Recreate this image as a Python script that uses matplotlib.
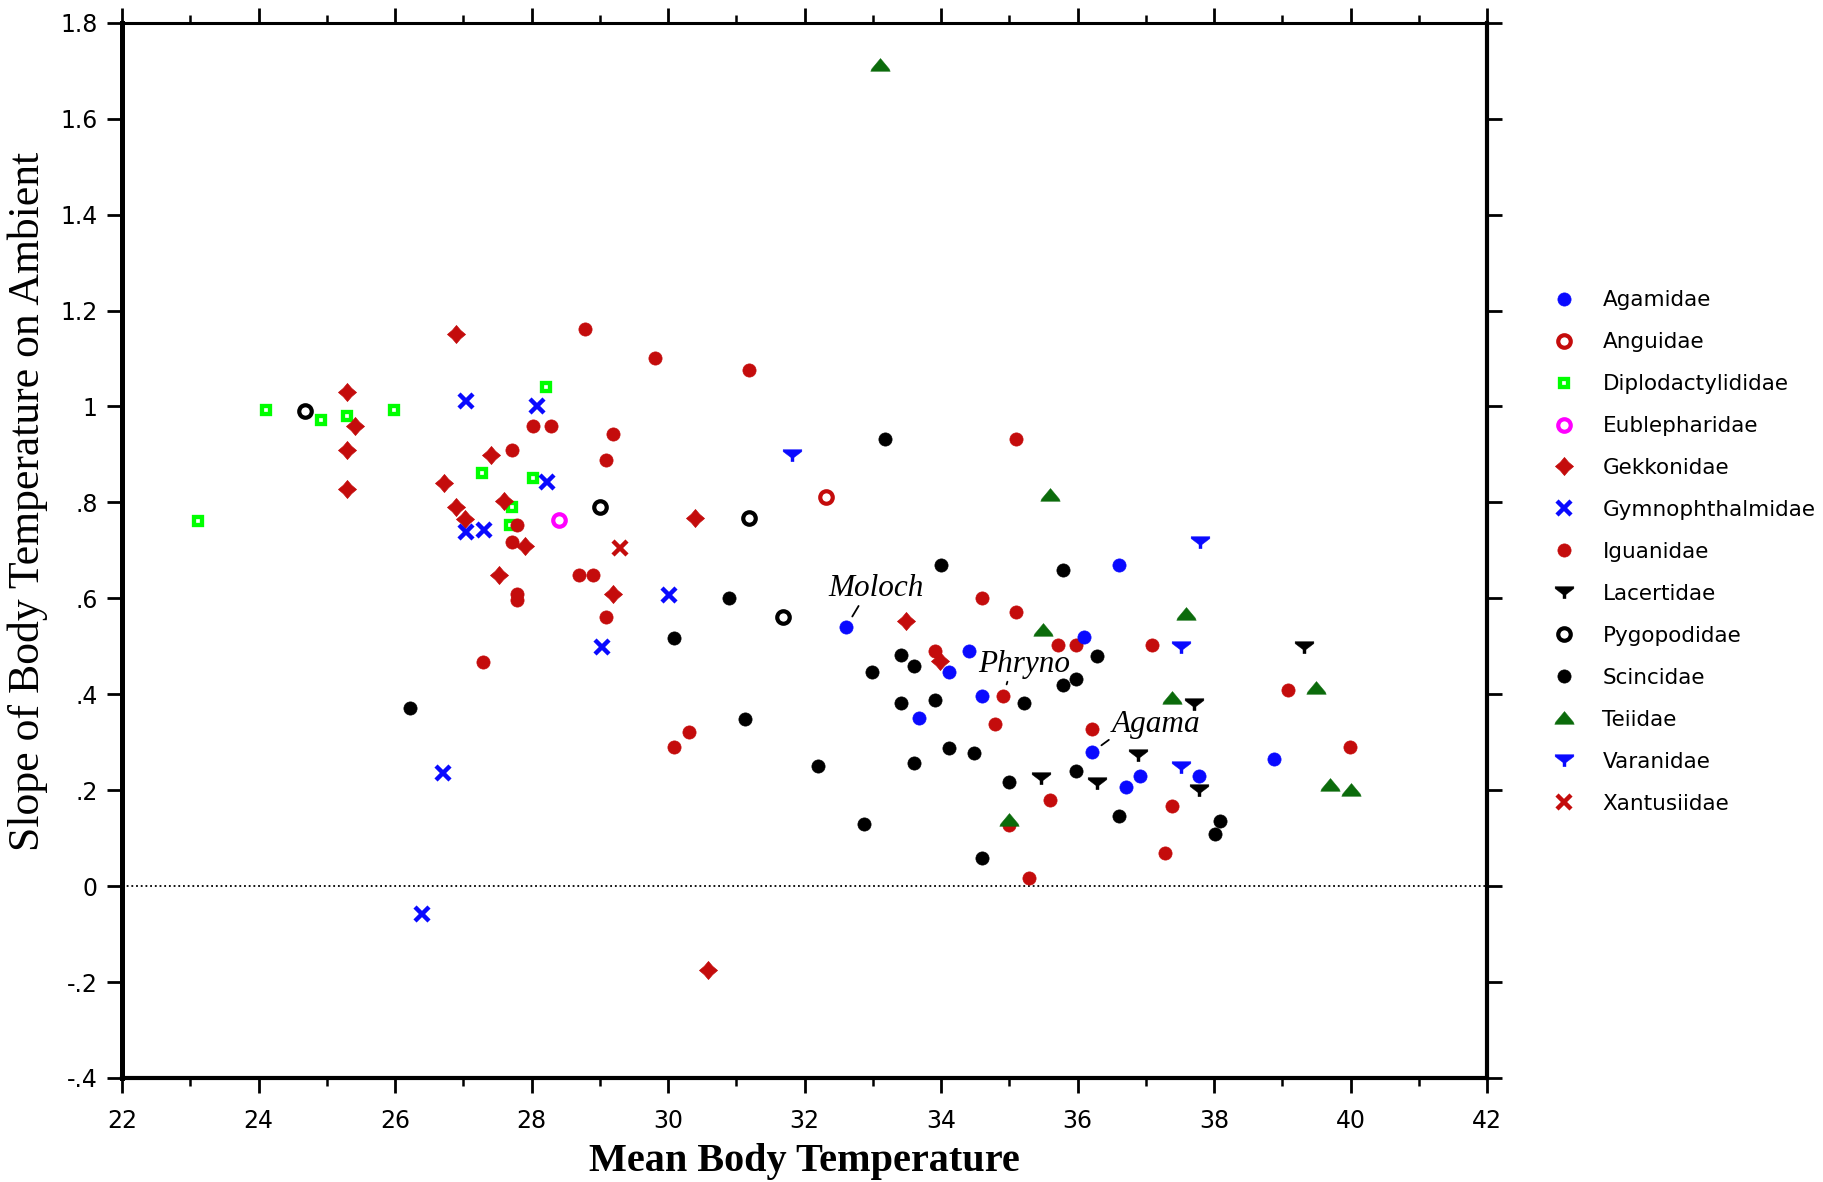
import matplotlib
matplotlib.use("Agg")
import matplotlib.pyplot as plt
from matplotlib.path import Path
from matplotlib.ticker import MultipleLocator

# ---------------- data: mean body temperature vs. slope on ambient ----------------
families = ["Agamidae", "Anguidae", "Diplodactylididae", "Eublepharidae",
            "Gekkonidae", "Gymnophthalmidae", "Iguanidae", "Lacertidae",
            "Pygopodidae", "Scincidae", "Teiidae", "Varanidae", "Xantusiidae"]

agamidae_tb = [32.61, 34.41, 34.11, 34.60, 33.68, 36.10, 36.60, 36.21, 36.91, 36.71, 37.78, 38.88]
agamidae_slope = [0.541, 0.491, 0.447, 0.397, 0.350, 0.519, 0.670, 0.279, 0.229, 0.206, 0.229, 0.266]

anguidae_tb = [32.31]
anguidae_slope = [0.812]

diplodactylididae_tb = [24.11, 24.91, 25.29, 25.99, 23.11, 28.21, 27.28, 28.02, 27.71, 27.69]
diplodactylididae_slope = [0.992, 0.971, 0.981, 0.992, 0.762, 1.041, 0.861, 0.851, 0.790, 0.752]

eublepharidae_tb = [28.40]
eublepharidae_slope = [0.763]

gekkonidae_tb = [26.90, 25.29, 25.41, 25.29, 25.29, 27.40, 26.71, 27.59, 26.90, 27.03,
                 27.90, 27.52, 30.39, 29.20, 33.49, 30.58, 33.99]
gekkonidae_slope = [1.152, 1.030, 0.959, 0.910, 0.828, 0.899, 0.840, 0.802, 0.790, 0.765,
                    0.709, 0.648, 0.768, 0.609, 0.552, -0.175, 0.470]

gymnophthalmidae_tb = [27.04, 28.08, 28.22, 27.04, 27.30, 30.02, 29.03, 26.70, 26.39]
gymnophthalmidae_slope = [1.011, 1.001, 0.842, 0.739, 0.743, 0.607, 0.499, 0.236, -0.058]

iguanidae_tb = [28.78, 29.81, 31.19, 28.02, 28.28, 29.20, 29.09, 27.71, 27.78, 27.71,
                27.78, 27.78, 28.70, 28.90, 29.09, 27.29, 35.10, 34.60, 35.10, 33.91,
                34.91, 34.79, 30.31, 30.08, 35.71, 35.98, 37.09, 39.08, 36.21, 39.99,
                35.60, 37.39, 37.28, 35.29, 34.99]
iguanidae_slope = [1.162, 1.101, 1.075, 0.959, 0.959, 0.943, 0.889, 0.910, 0.752, 0.718,
                   0.609, 0.597, 0.648, 0.648, 0.561, 0.468, 0.933, 0.600, 0.571, 0.491,
                   0.397, 0.338, 0.321, 0.290, 0.502, 0.502, 0.502, 0.409, 0.327, 0.291,
                   0.179, 0.168, 0.070, 0.016, 0.128]

lacertidae_tb = [35.47, 36.28, 36.89, 37.78, 37.71, 39.31]
lacertidae_slope = [0.225, 0.214, 0.273, 0.201, 0.380, 0.499]

pygopodidae_tb = [24.68, 29.00, 31.19, 31.69]
pygopodidae_slope = [0.990, 0.790, 0.768, 0.561]

scincidae_tb = [33.18, 34.00, 30.89, 30.08, 33.41, 33.60, 32.99, 35.79, 36.28, 35.98,
                35.78, 35.22, 33.41, 33.91, 31.12, 34.11, 34.48, 33.61, 32.19, 34.99,
                35.98, 32.87, 34.60, 36.60, 38.09, 38.01, 26.22]
scincidae_slope = [0.933, 0.670, 0.600, 0.517, 0.481, 0.458, 0.447, 0.660, 0.479, 0.431,
                   0.419, 0.382, 0.382, 0.387, 0.348, 0.288, 0.277, 0.256, 0.251, 0.218,
                   0.239, 0.129, 0.058, 0.147, 0.136, 0.109, 0.371]

teiidae_tb = [33.11, 35.60, 35.49, 37.59, 37.39, 39.50, 39.70, 40.00, 34.99]
teiidae_slope = [1.712, 0.816, 0.533, 0.568, 0.392, 0.413, 0.211, 0.201, 0.138]

varanidae_tb = [31.81, 37.79, 37.51, 37.51]
varanidae_slope = [0.898, 0.717, 0.498, 0.248]

xantusiidae_tb = [29.30]
xantusiidae_slope = [0.705]

# labelled genera and the points they refer to
callouts = ["Moloch", "Phryno", "Agama"]
callout_tb = [32.61, 34.91, 36.21]
callout_slope = [0.541, 0.397, 0.279]

x_ticks = [22, 24, 26, 28, 30, 32, 34, 36, 38, 40, 42]
y_ticks = [1.8, 1.6, 1.4, 1.2, 1.0, 0.8, 0.6, 0.4, 0.2, 0.0, -0.2, -0.4]
y_tick_labels = ["1.8", "1.6", "1.4", "1.2", "1", ".8", ".6", ".4", ".2", "0", "-.2", "-.4"]

# ---------------- marker shapes ----------------
def closed(verts):
    codes = [Path.MOVETO] + [Path.LINETO] * (len(verts) - 1) + [Path.CLOSEPOLY]
    return Path(verts + [verts[0]], codes)

funnel = closed([(-1, 0.62), (1, 0.62), (1, 0.42), (0.16, -0.22), (0.16, -0.66),
                 (-0.16, -0.66), (-0.16, -0.22), (-1, 0.42)])
mound = closed([(-1, -0.6), (1, -0.6), (0.9, -0.36), (0, 0.72), (-0.9, -0.36)])
star_diamond = closed([(0, 1), (0.46, 0.46), (1, 0), (0.46, -0.46), (0, -1),
                       (-0.46, -0.46), (-1, 0), (-0.46, 0.46)])

RED = "#c40c0c"
BLUE = "#0a0aff"
LIME = "#00ff00"
DKGREEN = "#0b6b0b"
MAGENTA = "#ff00ff"

series = [
    (agamidae_tb, agamidae_slope, dict(marker="o", ms=9.5, mfc=BLUE, mec=BLUE, mew=0.5), 4),
    (anguidae_tb, anguidae_slope, dict(marker="o", ms=9, mfc="white", mec=RED, mew=3.0), 3),
    (diplodactylididae_tb, diplodactylididae_slope, dict(marker="s", ms=6, mfc="white", mec=LIME, mew=3.1), 2),
    (eublepharidae_tb, eublepharidae_slope, dict(marker="o", ms=9, mfc="white", mec=MAGENTA, mew=3.0), 3),
    (gekkonidae_tb, gekkonidae_slope, dict(marker=star_diamond, ms=13, mfc=RED, mec=RED, mew=0.5), 3),
    (gymnophthalmidae_tb, gymnophthalmidae_slope, dict(marker="x", ms=9.5, mec=BLUE, mew=3.2), 3),
    (iguanidae_tb, iguanidae_slope, dict(marker="o", ms=9.5, mfc=RED, mec=RED, mew=0.5), 3),
    (lacertidae_tb, lacertidae_slope, dict(marker=funnel, ms=13.5, mfc="black", mec="black", mew=0.3), 3),
    (pygopodidae_tb, pygopodidae_slope, dict(marker="o", ms=9, mfc="white", mec="black", mew=3.0), 3),
    (scincidae_tb, scincidae_slope, dict(marker="o", ms=9.5, mfc="black", mec="black", mew=0.5), 3),
    (teiidae_tb, teiidae_slope, dict(marker=mound, ms=14, mfc=DKGREEN, mec=DKGREEN, mew=0.3), 4),
    (varanidae_tb, varanidae_slope, dict(marker=funnel, ms=13.5, mfc=BLUE, mec=BLUE, mew=0.3), 3),
    (xantusiidae_tb, xantusiidae_slope, dict(marker="x", ms=9.5, mec=RED, mew=3.2), 3),
]

# ---------------- figure ----------------
fig = plt.figure(figsize=(18.24, 11.82), dpi=100)
ax = fig.add_axes([0.0669, 0.0880, 0.7484, 0.8928])

handles = []
for (xs, ys, style, z), name in zip(series, families):
    h, = ax.plot(xs, ys, linestyle="none", label=name, zorder=z, **style)
    handles.append(h)

ax.axhline(0, color="black", lw=1.3, ls=(0, (1, 1.6)), zorder=1)

ax.set_xlim(22, 42)
ax.set_ylim(-0.4, 1.8)
ax.set_xticks(x_ticks)
ax.xaxis.set_minor_locator(MultipleLocator(1))
ax.set_yticks(y_ticks, y_tick_labels)

ax.tick_params(axis="both", which="major", direction="out", length=10.5, width=2.0,
               top=True, right=True, labeltop=False, labelright=False)
ax.tick_params(axis="x", which="minor", direction="out", length=5.5, width=1.8,
               top=True, bottom=True)
ax.tick_params(axis="x", which="major", pad=12, labelsize=17)
ax.tick_params(axis="y", which="major", pad=7, labelsize=17)
for lab in ax.get_xticklabels() + ax.get_yticklabels():
    lab.set_fontfamily("DejaVu Sans")

ax.spines["left"].set_linewidth(3.6)
ax.spines["right"].set_linewidth(3.0)
ax.spines["bottom"].set_linewidth(3.0)
ax.spines["top"].set_linewidth(2.2)

ax.set_xlabel("Mean Body Temperature", fontfamily="Liberation Serif",
              fontweight="bold", fontsize=29)
ax.xaxis.set_label_coords(0.5, -0.0788)
ax.xaxis.label.set_verticalalignment("center")
ax.set_ylabel("Slope of Body Temperature on Ambient", fontfamily="Liberation Serif",
              fontsize=31.5)
ax.yaxis.set_label_coords(-0.0692, 0.5467)
ax.yaxis.label.set_verticalalignment("center")

# genus call-outs with short leader lines
offsets = [(21.8, 21.9), (14.9, 17.1), (46.1, 14.4)]
relpos = [(0.33, 0.0), (0.33, 0.0), (0.0, 0.05)]
for name, tx, ty, off, rp in zip(callouts, callout_tb, callout_slope, offsets, relpos):
    ax.annotate(name, xy=(tx, ty), xytext=off, textcoords="offset points",
                ha="center", va="baseline", fontfamily="Liberation Serif",
                fontstyle="italic", fontsize=22.5, zorder=6,
                arrowprops=dict(arrowstyle="-", lw=1.3, color="black",
                                shrinkA=0, shrinkB=8.5, relpos=rp))

fig.legend(handles=handles, labels=families, loc="upper left",
           bbox_to_anchor=(0.8514, 0.7545), frameon=False, numpoints=1,
           prop={"family": "DejaVu Sans", "size": 15.5},
           handlelength=1.0, handletextpad=1.3, labelspacing=1.02,
           borderpad=0, borderaxespad=0)

fig.savefig("out.png", dpi=100)
